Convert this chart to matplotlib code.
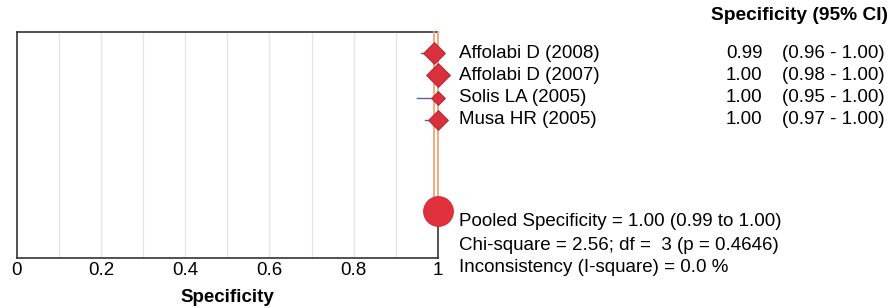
import matplotlib.pyplot as plt
import matplotlib.transforms as mtransforms

studies = ["Affolabi D (2008)", "Affolabi D (2007)", "Solis LA (2005)", "Musa HR (2005)"]
spec = [0.99, 1.00, 1.00, 1.00]
ci_low = [0.96, 0.98, 0.95, 0.97]
ci_high = [1.00, 1.00, 1.00, 1.00]

pooled = 1.00
pooled_low = 0.99
pooled_high = 1.00
chi2 = 2.56
dof = 3
pval = 0.4646
isq = 0.0

# marker sizes (study weights)
msizes = [11.2, 12.4, 7.4, 10.2]

plt.rcParams['font.family'] = ['Liberation Sans', 'DejaVu Sans']
fs = 13.5

fig = plt.figure(figsize=(8.93, 3.08), dpi=100)
ax = fig.add_axes([0.0187, 0.1623, 0.4718, 0.7337])

rows = [1, 2, 3, 4]
pooled_row = 8.1

ax.set_xlim(0, 1)
ax.set_ylim(10.2, 0.05)

for g in [0.1 * i for i in range(1, 10)]:
    ax.axvline(g, color="#e4e6ee", lw=0.9, zorder=0)

# pooled CI lines, with the axis line continuing below the pooled marker
for v in [pooled_low, pooled_high]:
    ax.plot([v, v], [0.05, pooled_row], color="#f0a27a", lw=1.3, zorder=3, clip_on=False)
ax.plot([1, 1], [pooled_row, 10.2], color="#333333", lw=1.2, zorder=3, clip_on=False)

for i in range(len(studies)):
    ax.plot([ci_low[i], ci_high[i]], [rows[i], rows[i]], color="#56609a", lw=1.0, zorder=4)
    ax.plot(spec[i], rows[i], marker="D", ms=msizes[i], color="#d8303c",
            mec="#b02030", mew=0.6, zorder=5, clip_on=False)

ax.plot(pooled, pooled_row, marker="o", ms=21.5, color="#e0313c", mec="#c82a35",
        mew=0.6, zorder=6, clip_on=False)

for s in ["left", "top", "bottom"]:
    ax.spines[s].set_color("#333333")
    ax.spines[s].set_linewidth(1.2)
ax.spines["right"].set_visible(False)

ax.set_yticks([])
ax.set_xticks([0, 0.2, 0.4, 0.6, 0.8, 1.0])
ax.set_xticklabels(["0", "0.2", "0.4", "0.6", "0.8", "1"], fontsize=fs)
ax.tick_params(axis="x", length=0, pad=3)
ax.set_xlabel("Specificity", fontsize=fs, fontweight="bold", labelpad=7)

trans = mtransforms.blended_transform_factory(fig.transFigure, ax.transData)
for i in range(len(studies)):
    ax.text(0.514, rows[i], studies[i], transform=trans, fontsize=fs, va="center", ha="left")
    ax.text(0.854, rows[i], "%.2f" % spec[i], transform=trans, fontsize=fs, va="center", ha="right")
    ax.text(0.876, rows[i], "(%.2f - %.2f)" % (ci_low[i], ci_high[i]), transform=trans,
            fontsize=fs, va="center", ha="left")

fig.text(0.994, 1 - 16 / 308, "Specificity (95% CI)", fontsize=13.8, fontweight="bold",
         ha="right", va="center")

fig.text(0.514, 1 - 222 / 308, "Pooled Specificity = %.2f (%.2f to %.2f)" % (pooled, pooled_low, pooled_high),
         fontsize=fs, va="center")
fig.text(0.514, 1 - 245 / 308, "Chi-square = %.2f; df =  %d (p = %.4f)" % (chi2, dof, pval),
         fontsize=fs, va="center")
fig.text(0.514, 1 - 267 / 308, "Inconsistency (I-square) = %.1f %%" % isq,
         fontsize=fs, va="center")

fig.savefig("out.png", dpi=100)
